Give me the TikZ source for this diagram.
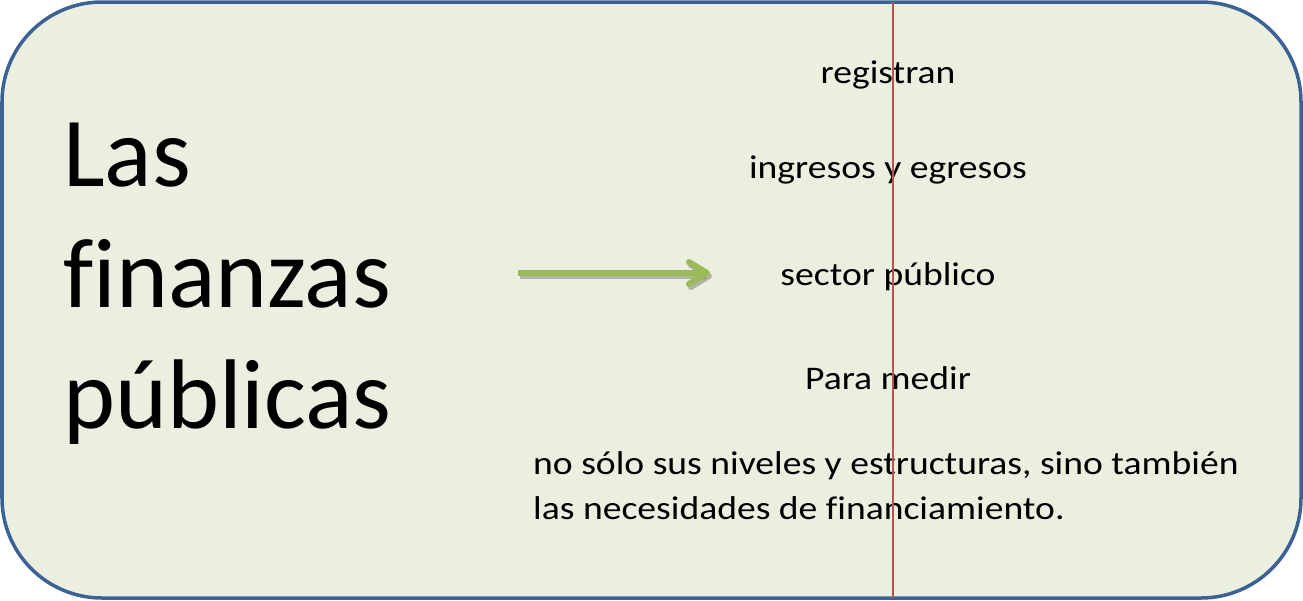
\documentclass[tikz,border=0pt]{standalone}
\usepackage{fontspec}
\setmainfont{Carlito}[Ligatures=NoCommon]
\newfontfamily\ancha[FakeStretch=1.14, Ligatures=NoCommon]{Carlito}
\usetikzlibrary{positioning, arrows.meta}
\definecolor{marco}{HTML}{3C6295}
\definecolor{fondo}{HTML}{EBEFDF}
\definecolor{guia}{HTML}{C0504D}
\definecolor{flecha}{HTML}{9BBB59}

\begin{document}
\begin{tikzpicture}[x=1pt, y=-1pt,
   titulo/.style={font=\fontsize{99}{121}\selectfont, align=left,
         inner sep=0pt, anchor=base west},
   linea/.style={font=\ancha\fontsize{33}{45}\selectfont, inner sep=0pt, anchor=base},
   parrafo/.style={font=\ancha\fontsize{33}{45}\selectfont, align=left,
         inner sep=0pt, anchor=base west},
   arr/.style={-{Straight Barb[length=18pt, width=22pt, round]},
         line width=6pt, flecha},
  ]
  \useasboundingbox (0,0) rectangle (1303,600);
  \draw[marco, line width=3.5pt, fill=fondo, rounded corners=100pt]
    (2,2) rectangle (1301,598);

  \node[titulo] (finanzas) at (63,428) {Las\\finanzas\\públicas};

  \node[linea] (registran) at (888,83) {registran};
  \node[linea] (ingresos) at (888,178) {ingresos y egresos};
  \node[linea] (sector) at (888,285) {sector público};
  \node[linea] (medir) at (888,389) {Para medir};
  \node[parrafo] (niveles) at (533,519)
    {no sólo sus niveles y estructuras, sino también\\las necesidades de financiamiento.};

  \coordinate (inicio) at (518,273);
  \coordinate (fin) at (710,273);
  \draw[arr, black, opacity=.25, transform canvas={shift={(2,3)}}] (inicio) -- (fin);
  \draw[arr] (inicio) -- (fin);

  \coordinate (arriba) at (893,2);
  \coordinate (abajo) at (893,598);
  \draw[guia, line width=2pt] (arriba) -- (abajo);
 \end{tikzpicture}
\end{document}
